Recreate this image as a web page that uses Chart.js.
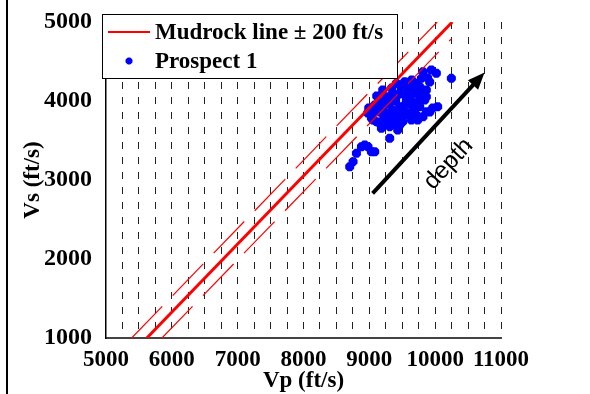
<!DOCTYPE html>
<html>
<head>
<meta charset="utf-8">
<script src="https://cdn.jsdelivr.net/npm/chart.js@4/dist/chart.umd.min.js"></script>
<style>
    html, body { margin: 0; padding: 0; background: #fff; }
    #wrap { position: relative; width: 590px; height: 394px; }
    #edge { position: absolute; left: 6px; top: 0; width: 2px; height: 394px; background: #000; }
    canvas { position: absolute; left: 0; top: 0; }
</style>
</head>
<body>
<div id="wrap">
    <canvas id="vpvsChart" width="590" height="394"></canvas>
    <div id="edge"></div>
</div>
<script>
// Prospect 1 well data (ft/s)
const prospectVp = [10246, 9815, 9942, 10018, 9790, 9886, 9461, 9507, 9355, 9259,
    9158, 9082, 9051, 9032, 9108, 9183, 9309, 9385, 9507, 9639,
    9715, 9765, 9658, 9563, 9461, 9355, 9259, 9411, 9583, 9715,
    9765, 9790, 9309, 9203, 9537, 9613, 9866, 9962, 10038, 9309,
    8702, 8753, 8804, 8880, 8980, 9082, 9032, 8930, 8976, 8991,
    9411, 9082, 9715, 9537, 9866, 9866, 9815, 9461, 9158, 9056,
    9203, 9340, 9431, 9279, 9400, 9507, 9613, 9674, 9522, 9309,
    9158, 9249, 9689, 9841, 9917, 9734, 9431, 9112, 9590, 9470,
    9158, 9264, 9370, 9476, 9583, 9643, 9340, 9446, 9552, 9658,
    9749, 9810, 9613, 9415, 9218, 9917];
const prospectVs = [4287, 4371, 4392, 4351, 4287, 4291, 4202, 4139, 4101, 4054,
    3991, 3949, 3848, 3785, 3738, 3654, 3675, 3721, 3738, 3759,
    3823, 3928, 3975, 4013, 3928, 3886, 3848, 3801, 3848, 4101,
    4181, 4054, 3975, 3911, 4076, 4139, 3865, 3911, 3928, 3528,
    3168, 3232, 3338, 3421, 3421, 3358, 3358, 3443, 3848, 3911,
    4224, 3886, 4224, 4244, 4139, 4054, 3801, 3696, 3718, 3759,
    4139, 4165, 4076, 3962, 4000, 3911, 4038, 3886, 3823, 3785,
    3861, 3734, 4202, 4013, 3861, 3760, 3633, 4063, 3960, 3760,
    3937, 4013, 4063, 4114, 4190, 4266, 3823, 3861, 3962, 4089,
    4000, 4114, 3810, 3709, 3785, 4241];

// mudrock line and its +/- 200 ft/s band
const mudrockVp = [5620, 10260];
const mudrockVs = [1000, 5000];
const upperVp = [5390, 10030];
const upperVs = [1000, 5000];
const lowerVp = [5850, 10250];
const lowerVs = [1000, 4790];

const xMajorTicks = [5000, 6000, 7000, 8000, 9000, 10000, 11000];
const yTicks = [1000, 2000, 3000, 4000, 5000];

const arrowFrom = [9050, 2830];
const arrowTo = [10750, 4360];
const arrowText = 'depth';

const serif = "'Liberation Serif', 'Times New Roman', serif";
const toPoints = (xs, ys) => xs.map((x, i) => ({ x: x, y: ys[i] }));

const chartLeft = 106, chartTop = 22, chartRight = 501, chartBottom = 338;

const overlayPlugin = {
    id: 'overlay',
    afterDatasetsDraw(chart) {
        const { ctx, scales: { x, y } } = chart;
        // depth arrow
        const x1 = x.getPixelForValue(arrowFrom[0]), y1 = y.getPixelForValue(arrowFrom[1]);
        const x2 = x.getPixelForValue(arrowTo[0]), y2 = y.getPixelForValue(arrowTo[1]);
        const ang = Math.atan2(y2 - y1, x2 - x1);
        const head = 17, half = 7;
        const bx = x2 - head * Math.cos(ang), by = y2 - head * Math.sin(ang);
        ctx.save();
        ctx.strokeStyle = '#000';
        ctx.fillStyle = '#000';
        ctx.lineWidth = 4;
        ctx.beginPath();
        ctx.moveTo(x1, y1);
        ctx.lineTo(bx + 2 * Math.cos(ang), by + 2 * Math.sin(ang));
        ctx.stroke();
        ctx.beginPath();
        ctx.moveTo(x2, y2);
        ctx.lineTo(bx + half * Math.sin(ang), by - half * Math.cos(ang));
        ctx.lineTo(bx - half * Math.sin(ang), by + half * Math.cos(ang));
        ctx.closePath();
        ctx.fill();

        // label below the arrow
        ctx.translate((x1 + x2) / 2 + 20, (y1 + y2) / 2 + 31);
        ctx.rotate(ang);
        ctx.font = "24px 'Liberation Sans', Arial, sans-serif";
        ctx.textAlign = 'center';
        ctx.textBaseline = 'middle';
        ctx.fillText(arrowText, 0, 0);
        ctx.restore();
    },
    afterDraw(chart) {
        const { ctx } = chart;
        const ds = chart.data.datasets;
        // legend box
        ctx.save();
        ctx.fillStyle = '#fff';
        ctx.strokeStyle = '#000';
        ctx.lineWidth = 1;
        ctx.fillRect(102, 14, 295, 64);
        ctx.strokeRect(102.5, 14.5, 295, 64);

        ctx.strokeStyle = ds[0].borderColor;
        ctx.lineWidth = 2;
        ctx.beginPath();
        ctx.moveTo(108, 32);
        ctx.lineTo(150, 32);
        ctx.stroke();

        ctx.strokeStyle = ds[3].borderColor;
        ctx.fillStyle = ds[3].borderColor;
        ctx.lineWidth = 2.5;
        Chart.helpers.drawPoint(ctx, { pointStyle: 'star', radius: 3.5, rotation: 0, borderWidth: 2.5 }, 129, 61);

        ctx.fillStyle = '#000';
        ctx.font = 'bold 23px ' + serif;
        ctx.textAlign = 'left';
        ctx.textBaseline = 'middle';
        ctx.fillText(ds[0].label, 155, 33);
        ctx.fillText(ds[3].label, 155, 62);
        ctx.restore();
    }
};

new Chart(document.getElementById('vpvsChart'), {
    type: 'scatter',
    data: {
        datasets: [{
            label: 'Mudrock line \u00b1 200 ft/s',
            data: toPoints(mudrockVp, mudrockVs),
            showLine: true,
            borderColor: '#ff0000',
            borderWidth: 3,
            pointRadius: 0
        }, {
            label: 'upper',
            data: toPoints(upperVp, upperVs),
            showLine: true,
            borderColor: '#ff0000',
            borderWidth: 1.2,
            borderDash: [44, 15],
            pointRadius: 0
        }, {
            label: 'lower',
            data: toPoints(lowerVp, lowerVs),
            showLine: true,
            borderColor: '#ff0000',
            borderWidth: 1.2,
            borderDash: [44, 15],
            pointRadius: 0
        }, {
            label: 'Prospect 1',
            data: toPoints(prospectVp, prospectVs),
            pointStyle: 'star',
            pointRadius: 4.5,
            pointBorderWidth: 3.5,
            borderColor: '#0000ff',
            backgroundColor: '#0000ff'
        }]
    },
    options: {
        responsive: false,
        animation: false,
        layout: { padding: { left: 0, top: chartTop, right: 590 - chartRight, bottom: 0 } },
        plugins: { legend: { display: false }, tooltip: { enabled: false } },
        scales: {
            x: {
                type: 'linear',
                min: xMajorTicks[0],
                max: xMajorTicks[xMajorTicks.length - 1],
                afterFit: (s) => { s.height = 394 - chartBottom; },
                border: { display: true, color: '#444', width: 2, dash: [7, 8] },
                grid: {
                    drawTicks: false,
                    lineWidth: 1,
                    color: (c) => (c.tick && c.tick.value === xMajorTicks[0]) ? 'rgba(0,0,0,0)' : '#222'
                },
                ticks: {
                    stepSize: 250,
                    autoSkip: false,
                    maxRotation: 0,
                    padding: 8,
                    color: '#000',
                    font: { family: serif, size: 23, weight: 'bold' },
                    callback: (v) => xMajorTicks.includes(v) ? String(v) : ''
                },
                title: {
                    display: true,
                    text: 'Vp (ft/s)',
                    color: '#000',
                    font: { family: serif, size: 23, weight: 'bold', lineHeight: 1.1 },
                    padding: { top: 0, bottom: 0 }
                }
            },
            y: {
                type: 'linear',
                min: yTicks[0],
                max: yTicks[yTicks.length - 1],
                afterFit: (s) => { s.width = chartLeft; },
                border: { display: true, color: '#000', width: 1.5 },
                grid: { display: false },
                ticks: {
                    stepSize: 1000,
                    padding: 6,
                    color: '#000',
                    font: { family: serif, size: 24, weight: 'bold' },
                    callback: (v) => yTicks.includes(v) ? String(v) : ''
                },
                title: {
                    display: true,
                    text: 'Vs (ft/s)',
                    color: '#000',
                    font: { family: serif, size: 23, weight: 'bold', lineHeight: 1.1 },
                    padding: { top: 20, bottom: 0 }
                }
            }
        }
    },
    plugins: [overlayPlugin]
});
</script>
</body>
</html>
